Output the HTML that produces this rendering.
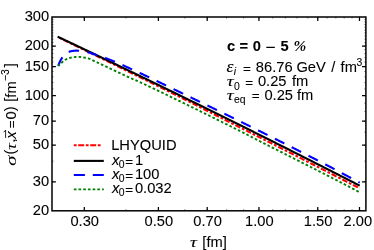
<!DOCTYPE html>
<html><head><meta charset="utf-8"><title>plot</title>
<style>
html,body{margin:0;padding:0;background:#fff;}
body{width:374px;height:250px;overflow:hidden;font-family:"Liberation Sans",sans-serif;}
svg{display:block;will-change:transform;transform:translateZ(0);}
</style></head>
<body>
<svg width="374" height="250" viewBox="0 0 374 250">
<rect width="374" height="250" fill="#fff"/>
<g fill="none" stroke-width="2.1" stroke-linejoin="round">
<path d="M57.60,36.96 L58.36,37.32 L59.11,37.69 L59.87,38.06 L60.63,38.43 L61.39,38.80 L62.14,39.17 L62.90,39.54 L63.66,39.90 L64.41,40.27 L65.17,40.64 L65.93,41.01 L66.69,41.38 L67.44,41.75 L68.20,42.12 L68.96,42.49 L69.71,42.85 L70.47,43.22 L71.23,43.59 L71.99,43.96 L72.74,44.33 L73.50,44.70 L74.26,45.07 L75.01,45.44 L75.77,45.80 L76.53,46.17 L77.29,46.54 L78.04,46.91 L78.80,47.28 L79.56,47.65 L80.31,48.02 L81.07,48.39 L81.83,48.75 L82.59,49.12 L83.34,49.49 L84.10,49.86 L84.86,50.23 L85.61,50.60 L86.37,50.97 L87.13,51.33 L87.89,51.70 L88.64,52.07 L89.40,52.44 L90.16,52.81 L90.91,53.18 L91.67,53.55 L92.43,53.91 L93.19,54.28 L93.94,54.65 L94.70,55.02 L95.46,55.39 L96.21,55.76 L96.97,56.13 L97.73,56.50 L98.49,56.87 L99.24,57.24 L100.00,57.60 L100.76,57.97 L101.51,58.34 L102.27,58.71 L103.03,59.08 L103.79,59.45 L104.54,59.82 L105.30,60.19 L106.06,60.56 L106.81,60.93 L107.57,61.30 L108.33,61.67 L109.09,62.04 L109.84,62.41 L110.60,62.78 L111.36,63.16 L112.11,63.53 L112.87,63.90 L113.63,64.27 L114.39,64.64 L115.14,65.01 L115.90,65.38 L116.66,65.75 L117.41,66.13 L118.17,66.50 L118.93,66.87 L119.69,67.24 L120.44,67.61 L121.20,67.99 L121.96,68.36 L122.71,68.73 L123.47,69.10 L124.23,69.47 L124.99,69.85 L125.74,70.22 L126.50,70.59 L127.26,70.96 L128.01,71.34 L128.77,71.71 L129.53,72.08 L130.29,72.46 L131.04,72.83 L131.80,73.20 L132.56,73.57 L133.31,73.95 L134.07,74.32 L134.83,74.69 L135.59,75.07 L136.34,75.44 L137.10,75.82 L137.86,76.19 L138.61,76.56 L139.37,76.94 L140.13,77.31 L140.89,77.68 L141.64,78.06 L142.40,78.43 L143.16,78.81 L143.91,79.18 L144.67,79.55 L145.43,79.93 L146.19,80.30 L146.94,80.68 L147.70,81.05 L148.46,81.42 L149.21,81.80 L149.97,82.17 L150.73,82.55 L151.49,82.92 L152.24,83.30 L153.00,83.67 L153.76,84.04 L154.51,84.42 L155.27,84.79 L156.03,85.17 L156.79,85.54 L157.54,85.92 L158.30,86.29 L159.06,86.66 L159.81,87.04 L160.57,87.41 L161.33,87.79 L162.09,88.16 L162.84,88.54 L163.60,88.91 L164.36,89.29 L165.11,89.66 L165.87,90.03 L166.63,90.41 L167.39,90.78 L168.14,91.16 L168.90,91.53 L169.66,91.91 L170.41,92.28 L171.17,92.66 L171.93,93.04 L172.69,93.41 L173.44,93.79 L174.20,94.16 L174.96,94.54 L175.71,94.92 L176.47,95.29 L177.23,95.67 L177.99,96.05 L178.74,96.42 L179.50,96.80 L180.26,97.18 L181.01,97.56 L181.77,97.93 L182.53,98.31 L183.29,98.69 L184.04,99.07 L184.80,99.45 L185.56,99.83 L186.31,100.20 L187.07,100.58 L187.83,100.96 L188.59,101.34 L189.34,101.72 L190.10,102.10 L190.86,102.49 L191.61,102.87 L192.37,103.25 L193.13,103.63 L193.89,104.02 L194.64,104.40 L195.40,104.79 L196.16,105.18 L196.91,105.56 L197.67,105.95 L198.43,106.34 L199.19,106.73 L199.94,107.12 L200.70,107.50 L201.46,107.89 L202.21,108.28 L202.97,108.67 L203.73,109.06 L204.49,109.45 L205.24,109.84 L206.00,110.23 L206.76,110.61 L207.51,111.00 L208.27,111.39 L209.03,111.78 L209.79,112.17 L210.54,112.55 L211.30,112.94 L212.06,113.32 L212.81,113.71 L213.57,114.09 L214.33,114.48 L215.09,114.86 L215.84,115.24 L216.60,115.62 L217.36,116.00 L218.11,116.39 L218.87,116.77 L219.63,117.15 L220.39,117.53 L221.14,117.91 L221.90,118.30 L222.66,118.68 L223.41,119.06 L224.17,119.44 L224.93,119.82 L225.69,120.21 L226.44,120.59 L227.20,120.97 L227.96,121.35 L228.71,121.73 L229.47,122.11 L230.23,122.50 L230.99,122.88 L231.74,123.26 L232.50,123.64 L233.26,124.02 L234.01,124.40 L234.77,124.79 L235.53,125.17 L236.29,125.55 L237.04,125.93 L237.80,126.31 L238.56,126.69 L239.31,127.08 L240.07,127.46 L240.83,127.84 L241.59,128.22 L242.34,128.60 L243.10,128.99 L243.86,129.37 L244.61,129.75 L245.37,130.13 L246.13,130.51 L246.89,130.89 L247.64,131.28 L248.40,131.66 L249.16,132.04 L249.91,132.42 L250.67,132.81 L251.43,133.19 L252.19,133.57 L252.94,133.95 L253.70,134.33 L254.46,134.72 L255.21,135.10 L255.97,135.48 L256.73,135.86 L257.49,136.25 L258.24,136.63 L259.00,137.01 L259.76,137.39 L260.51,137.78 L261.27,138.16 L262.03,138.54 L262.79,138.92 L263.54,139.31 L264.30,139.69 L265.06,140.07 L265.81,140.46 L266.57,140.84 L267.33,141.22 L268.09,141.61 L268.84,141.99 L269.60,142.37 L270.36,142.76 L271.11,143.14 L271.87,143.52 L272.63,143.91 L273.39,144.29 L274.14,144.68 L274.90,145.06 L275.66,145.44 L276.41,145.83 L277.17,146.21 L277.93,146.60 L278.69,146.98 L279.44,147.37 L280.20,147.75 L280.96,148.14 L281.71,148.52 L282.47,148.91 L283.23,149.29 L283.99,149.68 L284.74,150.06 L285.50,150.45 L286.26,150.83 L287.01,151.22 L287.77,151.60 L288.53,151.99 L289.29,152.37 L290.04,152.76 L290.80,153.14 L291.56,153.53 L292.31,153.91 L293.07,154.30 L293.83,154.69 L294.59,155.07 L295.34,155.46 L296.10,155.84 L296.86,156.23 L297.61,156.62 L298.37,157.00 L299.13,157.39 L299.89,157.77 L300.64,158.16 L301.40,158.55 L302.16,158.93 L302.91,159.32 L303.67,159.70 L304.43,160.09 L305.19,160.48 L305.94,160.86 L306.70,161.25 L307.46,161.64 L308.21,162.02 L308.97,162.41 L309.73,162.80 L310.49,163.18 L311.24,163.57 L312.00,163.96 L312.76,164.34 L313.51,164.73 L314.27,165.12 L315.03,165.50 L315.79,165.89 L316.54,166.28 L317.30,166.66 L318.06,167.05 L318.81,167.44 L319.57,167.82 L320.33,168.21 L321.09,168.60 L321.84,168.98 L322.60,169.37 L323.36,169.76 L324.11,170.14 L324.87,170.53 L325.63,170.92 L326.39,171.30 L327.14,171.69 L327.90,172.08 L328.66,172.46 L329.41,172.85 L330.17,173.24 L330.93,173.62 L331.69,174.01 L332.44,174.40 L333.20,174.79 L333.96,175.17 L334.71,175.56 L335.47,175.95 L336.23,176.33 L336.99,176.72 L337.74,177.11 L338.50,177.49 L339.26,177.88 L340.01,178.27 L340.77,178.65 L341.53,179.04 L342.29,179.43 L343.04,179.82 L343.80,180.20 L344.56,180.59 L345.31,180.98 L346.07,181.37 L346.83,181.75 L347.59,182.14 L348.34,182.53 L349.10,182.92 L349.86,183.31 L350.61,183.70 L351.37,184.08 L352.13,184.47 L352.89,184.86 L353.64,185.25 L354.40,185.64 L355.16,186.03 L355.91,186.42 L356.67,186.80 L357.43,187.19 L358.19,187.58 L358.94,187.97 L359.70,188.36" stroke="#ff0000" stroke-dasharray="2.7 1.9 5.5 1.9" stroke-dashoffset="-1.8"/>
<path d="M57.60,36.65 L58.36,37.00 L59.11,37.36 L59.87,37.72 L60.63,38.08 L61.39,38.44 L62.14,38.79 L62.90,39.15 L63.66,39.51 L64.41,39.87 L65.17,40.23 L65.93,40.59 L66.69,40.95 L67.44,41.30 L68.20,41.66 L68.96,42.02 L69.71,42.38 L70.47,42.74 L71.23,43.10 L71.99,43.46 L72.74,43.82 L73.50,44.18 L74.26,44.54 L75.01,44.89 L75.77,45.25 L76.53,45.61 L77.29,45.97 L78.04,46.33 L78.80,46.69 L79.56,47.05 L80.31,47.41 L81.07,47.77 L81.83,48.13 L82.59,48.49 L83.34,48.85 L84.10,49.21 L84.86,49.58 L85.61,49.94 L86.37,50.30 L87.13,50.66 L87.89,51.02 L88.64,51.38 L89.40,51.74 L90.16,52.10 L90.91,52.46 L91.67,52.82 L92.43,53.18 L93.19,53.55 L93.94,53.91 L94.70,54.27 L95.46,54.63 L96.21,54.99 L96.97,55.35 L97.73,55.72 L98.49,56.08 L99.24,56.44 L100.00,56.80 L100.76,57.16 L101.51,57.53 L102.27,57.89 L103.03,58.25 L103.79,58.61 L104.54,58.98 L105.30,59.34 L106.06,59.70 L106.81,60.06 L107.57,60.43 L108.33,60.79 L109.09,61.15 L109.84,61.52 L110.60,61.88 L111.36,62.24 L112.11,62.61 L112.87,62.97 L113.63,63.33 L114.39,63.70 L115.14,64.06 L115.90,64.42 L116.66,64.79 L117.41,65.15 L118.17,65.52 L118.93,65.88 L119.69,66.24 L120.44,66.61 L121.20,66.97 L121.96,67.34 L122.71,67.70 L123.47,68.07 L124.23,68.43 L124.99,68.79 L125.74,69.16 L126.50,69.52 L127.26,69.89 L128.01,70.25 L128.77,70.62 L129.53,70.98 L130.29,71.35 L131.04,71.71 L131.80,72.08 L132.56,72.45 L133.31,72.81 L134.07,73.18 L134.83,73.54 L135.59,73.91 L136.34,74.27 L137.10,74.64 L137.86,75.01 L138.61,75.37 L139.37,75.74 L140.13,76.10 L140.89,76.47 L141.64,76.84 L142.40,77.20 L143.16,77.57 L143.91,77.94 L144.67,78.30 L145.43,78.67 L146.19,79.04 L146.94,79.40 L147.70,79.77 L148.46,80.14 L149.21,80.51 L149.97,80.87 L150.73,81.24 L151.49,81.61 L152.24,81.98 L153.00,82.34 L153.76,82.71 L154.51,83.08 L155.27,83.45 L156.03,83.81 L156.79,84.18 L157.54,84.55 L158.30,84.92 L159.06,85.29 L159.81,85.66 L160.57,86.02 L161.33,86.39 L162.09,86.76 L162.84,87.13 L163.60,87.50 L164.36,87.87 L165.11,88.24 L165.87,88.61 L166.63,88.97 L167.39,89.34 L168.14,89.71 L168.90,90.08 L169.66,90.45 L170.41,90.82 L171.17,91.19 L171.93,91.56 L172.69,91.93 L173.44,92.30 L174.20,92.67 L174.96,93.04 L175.71,93.41 L176.47,93.78 L177.23,94.15 L177.99,94.52 L178.74,94.89 L179.50,95.26 L180.26,95.63 L181.01,96.00 L181.77,96.37 L182.53,96.74 L183.29,97.11 L184.04,97.48 L184.80,97.85 L185.56,98.23 L186.31,98.60 L187.07,98.97 L187.83,99.34 L188.59,99.71 L189.34,100.08 L190.10,100.45 L190.86,100.83 L191.61,101.20 L192.37,101.57 L193.13,101.94 L193.89,102.31 L194.64,102.68 L195.40,103.06 L196.16,103.43 L196.91,103.80 L197.67,104.17 L198.43,104.55 L199.19,104.92 L199.94,105.29 L200.70,105.66 L201.46,106.04 L202.21,106.41 L202.97,106.78 L203.73,107.15 L204.49,107.53 L205.24,107.90 L206.00,108.27 L206.76,108.65 L207.51,109.02 L208.27,109.39 L209.03,109.77 L209.79,110.14 L210.54,110.51 L211.30,110.89 L212.06,111.26 L212.81,111.63 L213.57,112.01 L214.33,112.38 L215.09,112.76 L215.84,113.13 L216.60,113.51 L217.36,113.88 L218.11,114.25 L218.87,114.63 L219.63,115.00 L220.39,115.38 L221.14,115.75 L221.90,116.13 L222.66,116.50 L223.41,116.88 L224.17,117.25 L224.93,117.63 L225.69,118.00 L226.44,118.38 L227.20,118.75 L227.96,119.13 L228.71,119.50 L229.47,119.88 L230.23,120.26 L230.99,120.63 L231.74,121.01 L232.50,121.38 L233.26,121.76 L234.01,122.14 L234.77,122.51 L235.53,122.89 L236.29,123.26 L237.04,123.64 L237.80,124.02 L238.56,124.39 L239.31,124.77 L240.07,125.15 L240.83,125.52 L241.59,125.90 L242.34,126.28 L243.10,126.65 L243.86,127.03 L244.61,127.41 L245.37,127.79 L246.13,128.16 L246.89,128.54 L247.64,128.92 L248.40,129.30 L249.16,129.67 L249.91,130.05 L250.67,130.43 L251.43,130.81 L252.19,131.18 L252.94,131.56 L253.70,131.94 L254.46,132.32 L255.21,132.70 L255.97,133.08 L256.73,133.45 L257.49,133.83 L258.24,134.21 L259.00,134.59 L259.76,134.97 L260.51,135.35 L261.27,135.73 L262.03,136.11 L262.79,136.48 L263.54,136.86 L264.30,137.24 L265.06,137.62 L265.81,138.00 L266.57,138.38 L267.33,138.76 L268.09,139.14 L268.84,139.52 L269.60,139.90 L270.36,140.28 L271.11,140.66 L271.87,141.04 L272.63,141.42 L273.39,141.80 L274.14,142.18 L274.90,142.56 L275.66,142.94 L276.41,143.32 L277.17,143.70 L277.93,144.08 L278.69,144.46 L279.44,144.84 L280.20,145.23 L280.96,145.61 L281.71,145.99 L282.47,146.37 L283.23,146.75 L283.99,147.13 L284.74,147.51 L285.50,147.89 L286.26,148.28 L287.01,148.66 L287.77,149.04 L288.53,149.42 L289.29,149.80 L290.04,150.18 L290.80,150.57 L291.56,150.95 L292.31,151.33 L293.07,151.71 L293.83,152.10 L294.59,152.48 L295.34,152.86 L296.10,153.24 L296.86,153.63 L297.61,154.01 L298.37,154.39 L299.13,154.77 L299.89,155.16 L300.64,155.54 L301.40,155.92 L302.16,156.31 L302.91,156.69 L303.67,157.07 L304.43,157.46 L305.19,157.84 L305.94,158.22 L306.70,158.61 L307.46,158.99 L308.21,159.37 L308.97,159.76 L309.73,160.14 L310.49,160.53 L311.24,160.91 L312.00,161.29 L312.76,161.68 L313.51,162.06 L314.27,162.45 L315.03,162.83 L315.79,163.22 L316.54,163.60 L317.30,163.99 L318.06,164.37 L318.81,164.76 L319.57,165.14 L320.33,165.53 L321.09,165.91 L321.84,166.30 L322.60,166.68 L323.36,167.07 L324.11,167.45 L324.87,167.84 L325.63,168.22 L326.39,168.61 L327.14,169.00 L327.90,169.38 L328.66,169.77 L329.41,170.15 L330.17,170.54 L330.93,170.93 L331.69,171.31 L332.44,171.70 L333.20,172.09 L333.96,172.47 L334.71,172.86 L335.47,173.25 L336.23,173.63 L336.99,174.02 L337.74,174.41 L338.50,174.79 L339.26,175.18 L340.01,175.57 L340.77,175.95 L341.53,176.34 L342.29,176.73 L343.04,177.12 L343.80,177.50 L344.56,177.89 L345.31,178.28 L346.07,178.67 L346.83,179.05 L347.59,179.44 L348.34,179.83 L349.10,180.22 L349.86,180.61 L350.61,181.00 L351.37,181.38 L352.13,181.77 L352.89,182.16 L353.64,182.55 L354.40,182.94 L355.16,183.33 L355.91,183.72 L356.67,184.10 L357.43,184.49 L358.19,184.88 L358.94,185.27 L359.70,185.66" stroke="#000"/>
<path d="M58.20,65.90 L58.44,65.27 L58.68,64.64 L58.93,64.00 L59.19,63.37 L59.45,62.74 L59.73,62.12 L60.01,61.50 L60.31,60.88 L60.62,60.27 L60.94,59.67 L61.28,59.08 L61.64,58.51 L62.01,57.94 L62.41,57.39 L62.82,56.85 L63.26,56.33 L63.71,55.83 L64.18,55.33 L64.67,54.86 L65.17,54.40 L65.69,53.95 L66.23,53.52 L66.78,53.11 L67.35,52.74 L67.93,52.39 L68.53,52.08 L69.15,51.81 L69.79,51.58 L70.44,51.38 L71.10,51.22 L71.77,51.08 L72.45,50.96 L73.12,50.85 L73.80,50.76 L74.48,50.68 L75.16,50.63 L75.83,50.60 L76.51,50.60 L77.19,50.63 L77.87,50.69 L78.54,50.76 L79.22,50.84 L79.89,50.91 L80.57,50.99 L81.24,51.08 L81.92,51.16 L82.59,51.25 L83.26,51.34 L83.94,51.43 L84.61,51.53 L85.28,51.64 L85.95,51.76 L86.62,51.89 L87.28,52.04 L87.94,52.21 L88.59,52.39 L89.25,52.58 L89.89,52.78 L90.54,52.99 L91.18,53.21 L91.83,53.44 L92.47,53.67 L93.11,53.90 L93.75,54.13 L94.39,54.36 L95.03,54.59 L95.67,54.81 L96.31,55.03 L96.95,55.24 L97.60,55.45 L98.25,55.64 L98.90,55.84 L99.56,56.02 L100.21,56.21 L100.86,56.40 L101.51,56.60 L102.16,56.81 L102.81,57.02 L103.45,57.24 L104.09,57.47 L104.73,57.70 L105.37,57.93 L106.00,58.17 L106.64,58.41 L107.27,58.65 L107.91,58.90 L108.54,59.14 L109.17,59.39 L109.80,59.64 L110.44,59.90 L111.06,60.15 L111.69,60.41 L112.32,60.67 L112.95,60.93 L113.58,61.19 L114.20,61.45 L114.83,61.72 L115.45,61.98 L116.08,62.25 L116.70,62.52 L117.33,62.79 L117.95,63.07 L118.57,63.34 L119.19,63.61 L119.81,63.89 L120.43,64.16 L121.06,64.44 L121.68,64.71 L122.30,64.99 L122.92,65.27 L123.54,65.55 L124.16,65.82 L124.78,66.10 L125.40,66.38 L126.02,66.66 L126.64,66.94 L127.26,67.22 L127.88,67.49 L128.50,67.77 L129.12,68.05 L129.73,68.33 L130.35,68.61 L130.97,68.89 L131.59,69.17 L132.21,69.45 L132.83,69.73 L133.45,70.02 L134.07,70.30 L134.68,70.58 L135.30,70.86 L135.92,71.15 L136.54,71.43 L137.15,71.72 L137.77,72.00 L138.39,72.29 L139.00,72.58 L139.62,72.86 L140.23,73.15 L140.85,73.44 L141.46,73.73 L142.08,74.02 L142.69,74.31 L143.31,74.60 L143.92,74.89 L144.54,75.18 L145.15,75.47 L145.76,75.76 L146.38,76.05 L146.99,76.34 L147.61,76.63 L148.22,76.92 L148.83,77.21 L149.45,77.50 L150.06,77.80 L150.68,78.09 L151.29,78.38 L151.90,78.67 L152.52,78.97 L153.13,79.26 L153.74,79.55 L154.36,79.84 L154.97,80.14 L155.58,80.43 L156.19,80.72 L156.81,81.02 L157.42,81.31 L158.03,81.60 L158.65,81.90 L159.26,82.19 L159.87,82.48 L160.48,82.78 L161.10,83.07 L161.71,83.37 L162.32,83.66 L162.93,83.96 L163.55,84.25 L164.16,84.54 L164.77,84.84 L165.38,85.13 L165.99,85.43 L166.61,85.72 L167.22,86.02 L167.83,86.32 L168.44,86.61 L169.05,86.91 L169.67,87.20 L170.28,87.50 L170.89,87.79 L171.50,88.09 L172.11,88.38 L172.72,88.68 L173.34,88.98 L173.95,89.27 L174.56,89.57 L175.17,89.87 L175.78,90.16 L176.39,90.46 L177.01,90.75 L177.62,91.05 L178.23,91.35 L178.84,91.64 L179.45,91.94 L180.06,92.24 L180.67,92.53 L181.29,92.83 L181.90,93.13 L182.51,93.42 L183.12,93.72 L183.73,94.02 L184.34,94.31 L184.95,94.61 L185.57,94.90 L186.18,95.20 L186.79,95.50 L187.40,95.79 L188.01,96.09 L188.62,96.39 L189.23,96.68 L189.85,96.98 L190.46,97.28 L191.07,97.57 L191.68,97.87 L192.29,98.16 L192.90,98.46 L193.51,98.76 L194.13,99.05 L194.74,99.35 L195.35,99.64 L195.96,99.94 L196.57,100.23 L197.19,100.53 L197.80,100.82 L198.41,101.12 L199.02,101.41 L199.63,101.71 L200.25,102.01 L200.86,102.30 L201.47,102.60 L202.08,102.89 L202.69,103.19 L203.31,103.48 L203.92,103.78 L204.53,104.07 L205.14,104.37 L205.75,104.66 L206.37,104.96 L206.98,105.25 L207.59,105.55 L208.20,105.84 L208.81,106.14 L209.43,106.43 L210.04,106.73 L210.65,107.03 L211.26,107.32 L211.87,107.62 L212.48,107.91 L213.10,108.21 L213.71,108.50 L214.32,108.80 L214.93,109.10 L215.54,109.39 L216.15,109.69 L216.77,109.99 L217.38,110.28 L217.99,110.58 L218.60,110.88 L219.21,111.17 L219.82,111.47 L220.43,111.77 L221.04,112.06 L221.65,112.36 L222.27,112.66 L222.88,112.96 L223.49,113.25 L224.10,113.55 L224.71,113.85 L225.32,114.15 L225.93,114.45 L226.54,114.74 L227.15,115.04 L227.76,115.34 L228.37,115.64 L228.98,115.94 L229.59,116.24 L230.20,116.54 L230.81,116.84 L231.42,117.14 L232.03,117.44 L232.64,117.74 L233.25,118.04 L233.86,118.34 L234.47,118.64 L235.08,118.94 L235.69,119.24 L236.30,119.54 L236.91,119.84 L237.52,120.14 L238.13,120.44 L238.73,120.74 L239.34,121.04 L239.95,121.34 L240.56,121.64 L241.17,121.94 L241.78,122.25 L242.39,122.55 L243.00,122.85 L243.61,123.15 L244.22,123.45 L244.83,123.75 L245.44,124.05 L246.05,124.35 L246.66,124.65 L247.26,124.95 L247.87,125.26 L248.48,125.56 L249.09,125.86 L249.70,126.16 L250.31,126.46 L250.92,126.76 L251.53,127.06 L252.14,127.37 L252.74,127.67 L253.35,127.97 L253.96,128.27 L254.57,128.57 L255.18,128.88 L255.79,129.18 L256.40,129.48 L257.00,129.78 L257.61,130.08 L258.22,130.39 L258.83,130.69 L259.44,130.99 L260.05,131.29 L260.66,131.60 L261.26,131.90 L261.87,132.20 L262.48,132.51 L263.09,132.81 L263.70,133.11 L264.30,133.42 L264.91,133.72 L265.52,134.02 L266.13,134.33 L266.74,134.63 L267.34,134.93 L267.95,135.24 L268.56,135.54 L269.17,135.84 L269.78,136.15 L270.38,136.45 L270.99,136.76 L271.60,137.06 L272.21,137.36 L272.81,137.67 L273.42,137.97 L274.03,138.28 L274.64,138.58 L275.24,138.89 L275.85,139.19 L276.46,139.50 L277.07,139.80 L277.67,140.11 L278.28,140.41 L278.89,140.72 L279.49,141.02 L280.10,141.33 L280.71,141.63 L281.32,141.94 L281.92,142.24 L282.53,142.55 L283.14,142.85 L283.74,143.16 L284.35,143.47 L284.96,143.77 L285.56,144.08 L286.17,144.38 L286.78,144.69 L287.38,145.00 L287.99,145.30 L288.59,145.61 L289.20,145.92 L289.81,146.22 L290.41,146.53 L291.02,146.84 L291.63,147.14 L292.23,147.45 L292.84,147.76 L293.44,148.07 L294.05,148.37 L294.66,148.68 L295.26,148.99 L295.87,149.30 L296.47,149.60 L297.08,149.91 L297.69,150.22 L298.29,150.53 L298.90,150.83 L299.50,151.14 L300.11,151.45 L300.71,151.76 L301.32,152.07 L301.92,152.38 L302.53,152.68 L303.14,152.99 L303.74,153.30 L304.35,153.61 L304.95,153.92 L305.56,154.23 L306.16,154.54 L306.77,154.85 L307.37,155.16 L307.98,155.46 L308.58,155.77 L309.19,156.08 L309.79,156.39 L310.40,156.70 L311.00,157.01 L311.61,157.32 L312.21,157.63 L312.82,157.94 L313.42,158.25 L314.03,158.56 L314.63,158.87 L315.23,159.18 L315.84,159.49 L316.44,159.80 L317.05,160.11 L317.65,160.42 L318.26,160.73 L318.86,161.04 L319.47,161.35 L320.07,161.67 L320.67,161.98 L321.28,162.29 L321.88,162.60 L322.49,162.91 L323.09,163.22 L323.69,163.53 L324.30,163.84 L324.90,164.15 L325.51,164.47 L326.11,164.78 L326.71,165.09 L327.31,165.41 L327.92,165.72 L328.52,166.04 L329.12,166.35 L329.72,166.67 L330.32,166.98 L330.92,167.30 L331.52,167.62 L332.12,167.94 L332.72,168.26 L333.32,168.58 L333.92,168.90 L334.52,169.22 L335.12,169.54 L335.72,169.86 L336.32,170.18 L336.92,170.50 L337.52,170.82 L338.12,171.14 L338.72,171.46 L339.32,171.78 L339.92,172.10 L340.51,172.42 L341.11,172.74 L341.71,173.06 L342.31,173.38 L342.91,173.70 L343.51,174.02 L344.11,174.34 L344.71,174.66 L345.31,174.98 L345.91,175.30 L346.51,175.62 L347.11,175.94 L347.71,176.26 L348.31,176.58 L348.91,176.90 L349.51,177.22 L350.11,177.54 L350.71,177.86 L351.31,178.18 L351.91,178.50 L352.51,178.82 L353.11,179.14 L353.71,179.46 L354.30,179.78 L354.90,180.09 L355.50,180.41 L356.10,180.73 L356.70,181.05 L357.30,181.37 L357.90,181.69 L358.50,182.01 L359.10,182.33 L359.70,182.65" stroke="#0000ff" stroke-dasharray="10.55 8.26" stroke-dashoffset="0.9"/>
<path d="M58.20,65.90 L58.70,65.46 L59.19,65.01 L59.68,64.55 L60.17,64.08 L60.65,63.61 L61.14,63.14 L61.64,62.68 L62.13,62.22 L62.64,61.77 L63.16,61.34 L63.68,60.92 L64.22,60.52 L64.78,60.14 L65.35,59.79 L65.94,59.46 L66.54,59.16 L67.15,58.88 L67.78,58.63 L68.41,58.39 L69.05,58.18 L69.70,57.99 L70.35,57.82 L71.01,57.66 L71.66,57.52 L72.32,57.39 L72.99,57.28 L73.65,57.18 L74.32,57.08 L74.99,57.00 L75.67,56.93 L76.34,56.88 L77.01,56.85 L77.68,56.84 L78.35,56.85 L79.02,56.89 L79.69,56.94 L80.36,57.01 L81.03,57.10 L81.69,57.19 L82.36,57.29 L83.03,57.39 L83.70,57.49 L84.37,57.58 L85.03,57.69 L85.70,57.80 L86.36,57.92 L87.02,58.07 L87.66,58.23 L88.31,58.43 L88.94,58.65 L89.57,58.89 L90.19,59.15 L90.80,59.42 L91.42,59.70 L92.03,59.99 L92.64,60.28 L93.25,60.56 L93.86,60.85 L94.47,61.13 L95.08,61.41 L95.69,61.70 L96.30,61.98 L96.91,62.26 L97.52,62.54 L98.13,62.83 L98.74,63.11 L99.35,63.40 L99.96,63.68 L100.57,63.97 L101.18,64.25 L101.78,64.54 L102.39,64.82 L103.00,65.11 L103.61,65.40 L104.22,65.68 L104.83,65.97 L105.44,66.26 L106.04,66.54 L106.65,66.83 L107.26,67.12 L107.87,67.41 L108.48,67.69 L109.08,67.98 L109.69,68.27 L110.30,68.56 L110.91,68.85 L111.52,69.13 L112.12,69.42 L112.73,69.71 L113.34,70.00 L113.95,70.29 L114.56,70.57 L115.16,70.86 L115.77,71.15 L116.38,71.44 L116.99,71.73 L117.60,72.01 L118.20,72.30 L118.81,72.59 L119.42,72.88 L120.03,73.16 L120.64,73.45 L121.24,73.74 L121.85,74.02 L122.46,74.31 L123.07,74.60 L123.68,74.88 L124.29,75.17 L124.90,75.45 L125.51,75.73 L126.12,76.02 L126.73,76.30 L127.34,76.58 L127.95,76.86 L128.57,77.13 L129.18,77.41 L129.79,77.68 L130.41,77.95 L131.03,78.23 L131.64,78.50 L132.26,78.77 L132.87,79.03 L133.49,79.30 L134.11,79.57 L134.72,79.84 L135.34,80.11 L135.96,80.38 L136.57,80.65 L137.19,80.92 L137.81,81.19 L138.42,81.46 L139.04,81.73 L139.65,82.00 L140.27,82.28 L140.88,82.55 L141.49,82.83 L142.10,83.11 L142.71,83.39 L143.32,83.68 L143.93,83.96 L144.54,84.25 L145.15,84.54 L145.76,84.83 L146.36,85.11 L146.97,85.40 L147.58,85.69 L148.19,85.98 L148.79,86.27 L149.40,86.56 L150.01,86.85 L150.61,87.14 L151.22,87.44 L151.83,87.73 L152.43,88.02 L153.04,88.31 L153.65,88.60 L154.25,88.89 L154.86,89.18 L155.47,89.47 L156.07,89.76 L156.68,90.05 L157.28,90.34 L157.89,90.64 L158.50,90.93 L159.10,91.22 L159.71,91.51 L160.32,91.80 L160.92,92.09 L161.53,92.38 L162.13,92.68 L162.74,92.97 L163.35,93.26 L163.95,93.55 L164.56,93.85 L165.16,94.14 L165.77,94.43 L166.37,94.72 L166.98,95.02 L167.59,95.31 L168.19,95.60 L168.80,95.89 L169.40,96.19 L170.01,96.48 L170.61,96.77 L171.22,97.07 L171.82,97.36 L172.43,97.65 L173.03,97.95 L173.64,98.24 L174.24,98.53 L174.85,98.83 L175.46,99.12 L176.06,99.41 L176.67,99.71 L177.27,100.00 L177.88,100.30 L178.48,100.59 L179.09,100.88 L179.69,101.18 L180.29,101.47 L180.90,101.77 L181.50,102.06 L182.11,102.36 L182.71,102.65 L183.32,102.95 L183.92,103.24 L184.53,103.54 L185.13,103.83 L185.74,104.13 L186.34,104.42 L186.94,104.72 L187.55,105.01 L188.15,105.31 L188.76,105.60 L189.36,105.90 L189.97,106.19 L190.57,106.49 L191.17,106.79 L191.78,107.08 L192.38,107.38 L192.99,107.67 L193.59,107.97 L194.19,108.27 L194.80,108.56 L195.40,108.86 L196.01,109.15 L196.61,109.45 L197.21,109.75 L197.82,110.04 L198.42,110.34 L199.02,110.64 L199.63,110.94 L200.23,111.23 L200.83,111.53 L201.44,111.83 L202.04,112.12 L202.65,112.42 L203.25,112.72 L203.85,113.02 L204.46,113.31 L205.06,113.61 L205.66,113.91 L206.26,114.21 L206.87,114.50 L207.47,114.80 L208.07,115.10 L208.68,115.40 L209.28,115.70 L209.88,115.99 L210.49,116.29 L211.09,116.59 L211.69,116.89 L212.29,117.19 L212.90,117.49 L213.50,117.79 L214.10,118.08 L214.70,118.38 L215.31,118.68 L215.91,118.98 L216.51,119.28 L217.11,119.58 L217.72,119.88 L218.32,120.18 L218.92,120.48 L219.52,120.78 L220.13,121.08 L220.73,121.38 L221.33,121.68 L221.93,121.98 L222.53,122.28 L223.14,122.58 L223.74,122.88 L224.34,123.18 L224.94,123.48 L225.54,123.78 L226.15,124.08 L226.75,124.38 L227.35,124.68 L227.95,124.98 L228.55,125.28 L229.16,125.58 L229.76,125.88 L230.36,126.18 L230.96,126.48 L231.56,126.78 L232.16,127.08 L232.77,127.38 L233.37,127.69 L233.97,127.99 L234.57,128.29 L235.17,128.59 L235.77,128.89 L236.37,129.19 L236.97,129.49 L237.58,129.79 L238.18,130.10 L238.78,130.40 L239.38,130.70 L239.98,131.00 L240.58,131.30 L241.18,131.61 L241.78,131.91 L242.38,132.22 L242.98,132.52 L243.58,132.83 L244.18,133.13 L244.78,133.44 L245.38,133.75 L245.97,134.06 L246.57,134.36 L247.17,134.67 L247.77,134.98 L248.36,135.29 L248.96,135.60 L249.56,135.91 L250.15,136.22 L250.75,136.53 L251.35,136.85 L251.94,137.16 L252.54,137.47 L253.14,137.78 L253.73,138.09 L254.33,138.40 L254.93,138.71 L255.52,139.02 L256.12,139.33 L256.72,139.64 L257.31,139.95 L257.91,140.26 L258.51,140.57 L259.10,140.88 L259.70,141.19 L260.30,141.50 L260.90,141.80 L261.50,142.11 L262.10,142.42 L262.69,142.72 L263.29,143.03 L263.89,143.33 L264.49,143.64 L265.09,143.94 L265.69,144.25 L266.29,144.55 L266.90,144.85 L267.50,145.15 L268.10,145.46 L268.70,145.76 L269.30,146.06 L269.90,146.36 L270.50,146.67 L271.10,146.97 L271.70,147.27 L272.30,147.57 L272.90,147.88 L273.50,148.18 L274.10,148.48 L274.70,148.79 L275.30,149.09 L275.90,149.39 L276.51,149.69 L277.11,150.00 L277.71,150.30 L278.31,150.60 L278.91,150.91 L279.51,151.21 L280.11,151.51 L280.71,151.82 L281.31,152.12 L281.91,152.42 L282.51,152.72 L283.11,153.03 L283.71,153.33 L284.31,153.63 L284.91,153.94 L285.51,154.24 L286.11,154.54 L286.71,154.85 L287.31,155.15 L287.91,155.45 L288.52,155.76 L289.12,156.06 L289.72,156.36 L290.32,156.67 L290.92,156.97 L291.52,157.27 L292.12,157.58 L292.72,157.88 L293.32,158.18 L293.92,158.49 L294.52,158.79 L295.12,159.09 L295.72,159.40 L296.32,159.70 L296.92,160.01 L297.52,160.31 L298.12,160.61 L298.72,160.92 L299.32,161.22 L299.92,161.52 L300.52,161.83 L301.12,162.13 L301.72,162.44 L302.32,162.74 L302.92,163.05 L303.52,163.35 L304.12,163.65 L304.72,163.96 L305.32,164.26 L305.92,164.57 L306.52,164.87 L307.12,165.18 L307.72,165.48 L308.32,165.78 L308.92,166.09 L309.52,166.39 L310.12,166.70 L310.72,167.00 L311.32,167.31 L311.92,167.61 L312.52,167.92 L313.12,168.22 L313.72,168.53 L314.31,168.83 L314.91,169.14 L315.51,169.44 L316.11,169.75 L316.71,170.05 L317.31,170.36 L317.91,170.66 L318.51,170.97 L319.11,171.27 L319.71,171.58 L320.31,171.89 L320.91,172.19 L321.51,172.50 L322.11,172.80 L322.70,173.11 L323.30,173.41 L323.90,173.72 L324.50,174.03 L325.10,174.33 L325.70,174.64 L326.30,174.94 L326.90,175.25 L327.50,175.56 L328.09,175.86 L328.69,176.17 L329.29,176.48 L329.89,176.78 L330.49,177.09 L331.09,177.40 L331.69,177.70 L332.29,178.01 L332.88,178.32 L333.48,178.63 L334.08,178.93 L334.68,179.24 L335.28,179.55 L335.88,179.85 L336.47,180.16 L337.07,180.47 L337.67,180.78 L338.27,181.09 L338.86,181.40 L339.46,181.71 L340.06,182.02 L340.65,182.33 L341.25,182.64 L341.85,182.95 L342.44,183.26 L343.04,183.57 L343.64,183.88 L344.23,184.20 L344.83,184.51 L345.42,184.82 L346.02,185.13 L346.61,185.45 L347.21,185.76 L347.81,186.07 L348.40,186.39 L349.00,186.70 L349.59,187.01 L350.19,187.33 L350.78,187.64 L351.38,187.95 L351.97,188.27 L352.56,188.58 L353.16,188.90 L353.75,189.21 L354.35,189.53 L354.94,189.84 L355.54,190.15 L356.13,190.47 L356.73,190.78 L357.32,191.10 L357.92,191.41 L358.51,191.73 L359.11,192.04 L359.70,192.36" stroke="#008000" stroke-width="1.9" stroke-dasharray="2.6 2.15" stroke-dashoffset="0.6"/>
</g>
<rect x="52.0" y="17.0" width="313.9" height="193.8" fill="none" stroke="#000" stroke-width="1.5"/>
<path d="M84.30,210.8 v-3.9 M84.30,17.0 v3.9 M158.40,210.8 v-3.9 M158.40,17.0 v3.9 M207.20,210.8 v-3.9 M207.20,17.0 v3.9 M258.94,210.8 v-3.9 M258.94,17.0 v3.9 M317.76,210.8 v-3.9 M317.76,17.0 v3.9 M359.49,210.8 v-3.9 M359.49,17.0 v3.9 M52.0,46.02 h3.9 M365.9,46.02 h-3.9 M52.0,66.60 h3.9 M365.9,66.60 h-3.9 M52.0,95.62 h3.9 M365.9,95.62 h-3.9 M52.0,121.15 h3.9 M365.9,121.15 h-3.9 M52.0,145.23 h3.9 M365.9,145.23 h-3.9 M52.0,181.78 h3.9 M365.9,181.78 h-3.9" stroke="#000" stroke-width="1.25" fill="none"/>
<path d="M84.30,210.8 v-1.5 M84.30,17.0 v1.5 M126.03,210.8 v-1.5 M126.03,17.0 v1.5 M158.40,210.8 v-1.5 M158.40,17.0 v1.5 M184.84,210.8 v-1.5 M184.84,17.0 v1.5 M207.20,210.8 v-1.5 M207.20,17.0 v1.5 M226.57,210.8 v-1.5 M226.57,17.0 v1.5 M243.66,210.8 v-1.5 M243.66,17.0 v1.5 M258.94,210.8 v-1.5 M258.94,17.0 v1.5 M272.77,210.8 v-1.5 M272.77,17.0 v1.5 M285.39,210.8 v-1.5 M285.39,17.0 v1.5 M297.00,210.8 v-1.5 M297.00,17.0 v1.5 M307.75,210.8 v-1.5 M307.75,17.0 v1.5 M317.76,210.8 v-1.5 M317.76,17.0 v1.5 M327.12,210.8 v-1.5 M327.12,17.0 v1.5 M335.91,210.8 v-1.5 M335.91,17.0 v1.5 M344.20,210.8 v-1.5 M344.20,17.0 v1.5 M352.05,210.8 v-1.5 M352.05,17.0 v1.5 M359.49,210.8 v-1.5 M359.49,17.0 v1.5 M52.0,181.78 h1.5 M365.9,181.78 h-1.5 M52.0,161.20 h1.5 M365.9,161.20 h-1.5 M52.0,145.23 h1.5 M365.9,145.23 h-1.5 M52.0,132.18 h1.5 M365.9,132.18 h-1.5 M52.0,121.15 h1.5 M365.9,121.15 h-1.5 M52.0,111.59 h1.5 M365.9,111.59 h-1.5 M52.0,103.16 h1.5 M365.9,103.16 h-1.5 M52.0,95.62 h1.5 M365.9,95.62 h-1.5 M52.0,88.80 h1.5 M365.9,88.80 h-1.5 M52.0,82.57 h1.5 M365.9,82.57 h-1.5 M52.0,76.85 h1.5 M365.9,76.85 h-1.5 M52.0,71.54 h1.5 M365.9,71.54 h-1.5 M52.0,66.60 h1.5 M365.9,66.60 h-1.5 M52.0,61.99 h1.5 M365.9,61.99 h-1.5 M52.0,57.65 h1.5 M365.9,57.65 h-1.5 M52.0,53.56 h1.5 M365.9,53.56 h-1.5 M52.0,49.69 h1.5 M365.9,49.69 h-1.5 M52.0,46.02 h1.5 M365.9,46.02 h-1.5 M52.0,42.53 h1.5 M365.9,42.53 h-1.5 M52.0,39.20 h1.5 M365.9,39.20 h-1.5 M52.0,36.01 h1.5 M365.9,36.01 h-1.5 M52.0,32.97 h1.5 M365.9,32.97 h-1.5 M52.0,30.05 h1.5 M365.9,30.05 h-1.5 M52.0,27.24 h1.5 M365.9,27.24 h-1.5 M52.0,24.54 h1.5 M365.9,24.54 h-1.5 M52.0,21.94 h1.5 M365.9,21.94 h-1.5 M52.0,19.43 h1.5 M365.9,19.43 h-1.5" stroke="#000" stroke-width="0.7" fill="none" opacity="0.8"/>
<g fill="#000">
<text transform="translate(84.70 226.40) scale(1 1.04)" font-size="14.7" font-family='"Liberation Sans", sans-serif' text-anchor="middle" stroke="#000" stroke-width="0.08">0.30</text>
<text transform="translate(158.80 226.40) scale(1 1.04)" font-size="14.7" font-family='"Liberation Sans", sans-serif' text-anchor="middle" stroke="#000" stroke-width="0.08">0.50</text>
<text transform="translate(207.60 226.40) scale(1 1.04)" font-size="14.7" font-family='"Liberation Sans", sans-serif' text-anchor="middle" stroke="#000" stroke-width="0.08">0.70</text>
<text transform="translate(259.34 226.40) scale(1 1.04)" font-size="14.7" font-family='"Liberation Sans", sans-serif' text-anchor="middle" stroke="#000" stroke-width="0.08">1.00</text>
<text transform="translate(318.16 226.40) scale(1 1.04)" font-size="14.7" font-family='"Liberation Sans", sans-serif' text-anchor="middle" stroke="#000" stroke-width="0.08">1.50</text>
<text transform="translate(357.89 226.40) scale(1 1.04)" font-size="14.7" font-family='"Liberation Sans", sans-serif' text-anchor="middle" stroke="#000" stroke-width="0.08">2.00</text>
<text transform="translate(49.20 21.10) scale(1 1.04)" font-size="14.7" font-family='"Liberation Sans", sans-serif' text-anchor="end" stroke="#000" stroke-width="0.08">300</text>
<text transform="translate(49.20 50.12) scale(1 1.04)" font-size="14.7" font-family='"Liberation Sans", sans-serif' text-anchor="end" stroke="#000" stroke-width="0.08">200</text>
<text transform="translate(49.20 70.70) scale(1 1.04)" font-size="14.7" font-family='"Liberation Sans", sans-serif' text-anchor="end" stroke="#000" stroke-width="0.08">150</text>
<text transform="translate(49.20 99.72) scale(1 1.04)" font-size="14.7" font-family='"Liberation Sans", sans-serif' text-anchor="end" stroke="#000" stroke-width="0.08">100</text>
<text transform="translate(49.20 125.25) scale(1 1.04)" font-size="14.7" font-family='"Liberation Sans", sans-serif' text-anchor="end" stroke="#000" stroke-width="0.08">70</text>
<text transform="translate(49.20 149.33) scale(1 1.04)" font-size="14.7" font-family='"Liberation Sans", sans-serif' text-anchor="end" stroke="#000" stroke-width="0.08">50</text>
<text transform="translate(49.20 185.88) scale(1 1.04)" font-size="14.7" font-family='"Liberation Sans", sans-serif' text-anchor="end" stroke="#000" stroke-width="0.08">30</text>
<text transform="translate(49.20 214.90) scale(1 1.04)" font-size="14.7" font-family='"Liberation Sans", sans-serif' text-anchor="end" stroke="#000" stroke-width="0.08">20</text>
</g>
<g fill="none" stroke-width="2.1">
<path d="M73.8,145.2 H101.2" stroke="#ff0000" stroke-dasharray="2.8 1.6 6 1.6"/>
<path d="M73.8,160.9 H103.8" stroke="#000"/>
<path d="M73.8,175.0 H103.8" stroke="#0000ff" stroke-dasharray="11.1 7.9"/>
<path d="M73.8,189.4 H103.8" stroke="#008000" stroke-width="1.9" stroke-dasharray="2.7 2.0"/>
</g>
<g fill="#000">
<text transform="translate(111.20 150.00) scale(1 1.04)" font-size="14.7" font-family='"Liberation Sans", sans-serif' stroke="#000" stroke-width="0.08">LHYQUID</text>
<text transform="translate(112.00 165.00) scale(1 1)" font-size="14.7" font-family='"Liberation Sans", sans-serif' font-style="italic" stroke="#000" stroke-width="0.08">x</text>
<text transform="translate(118.70 168.10) scale(1 1.04)" font-size="10.4" font-family='"Liberation Sans", sans-serif' stroke="#000" stroke-width="0.08">0</text>
<text transform="translate(125.25 165.80) scale(1 1)" font-size="13.5" font-family='"Liberation Sans", sans-serif' stroke="#000" stroke-width="0.15">=</text>
<text transform="translate(134.90 165.00) scale(1 1.04)" font-size="14.7" font-family='"Liberation Sans", sans-serif' stroke="#000" stroke-width="0.08">1</text>
<text transform="translate(112.00 179.00) scale(1 1)" font-size="14.7" font-family='"Liberation Sans", sans-serif' font-style="italic" stroke="#000" stroke-width="0.08">x</text>
<text transform="translate(118.70 182.10) scale(1 1.04)" font-size="10.4" font-family='"Liberation Sans", sans-serif' stroke="#000" stroke-width="0.08">0</text>
<text transform="translate(125.25 179.80) scale(1 1)" font-size="13.5" font-family='"Liberation Sans", sans-serif' stroke="#000" stroke-width="0.15">=</text>
<text transform="translate(134.90 179.00) scale(1 1.04)" font-size="14.7" font-family='"Liberation Sans", sans-serif' stroke="#000" stroke-width="0.08">100</text>
<text transform="translate(112.00 193.10) scale(1 1)" font-size="14.7" font-family='"Liberation Sans", sans-serif' font-style="italic" stroke="#000" stroke-width="0.08">x</text>
<text transform="translate(118.70 196.20) scale(1 1.04)" font-size="10.4" font-family='"Liberation Sans", sans-serif' stroke="#000" stroke-width="0.08">0</text>
<text transform="translate(125.25 193.90) scale(1 1)" font-size="13.5" font-family='"Liberation Sans", sans-serif' stroke="#000" stroke-width="0.15">=</text>
<text transform="translate(134.90 193.10) scale(1 1.04)" font-size="14.7" font-family='"Liberation Sans", sans-serif' stroke="#000" stroke-width="0.08">0.032</text>
</g>
<g fill="#000">
<text transform="translate(227.00 50.90) scale(1 1.04)" font-size="14.7" font-family='"Liberation Sans", sans-serif' font-weight="bold" stroke="#000" stroke-width="0.08">c</text>
<text transform="translate(239.60 50.90) scale(1 1.04)" font-size="14.7" font-family='"Liberation Sans", sans-serif' font-weight="bold" stroke="#000" stroke-width="0.08">=</text>
<text transform="translate(252.80 50.90) scale(1 1.04)" font-size="14.7" font-family='"Liberation Sans", sans-serif' font-weight="bold" stroke="#000" stroke-width="0.08">0</text>
<text transform="translate(266.40 50.90) scale(1 1.04)" font-size="14.7" font-family='"Liberation Sans", sans-serif' stroke="#000" stroke-width="0.25">–</text>
<text transform="translate(280.60 50.90) scale(1 1.04)" font-size="14.7" font-family='"Liberation Sans", sans-serif' font-weight="bold" stroke="#000" stroke-width="0.08">5</text>
<text transform="translate(293.60 50.60) scale(1 1)" font-size="15.3" font-family='"Liberation Serif", serif' font-style="italic" font-weight="bold">%</text>
<text transform="translate(226.60 72.10) scale(1.12 1)" font-size="15.8" font-family='"Liberation Serif", serif' font-style="italic" stroke="#000" stroke-width="0.1">ε</text>
<text transform="translate(233.80 75.40) scale(1 1.04)" font-size="10.4" font-family='"Liberation Sans", sans-serif' font-style="italic" stroke="#000" stroke-width="0.08">i</text>
<text transform="translate(242.95 72.90) scale(1 1)" font-size="13.5" font-family='"Liberation Sans", sans-serif' stroke="#000" stroke-width="0.15">=</text>
<text transform="translate(255.80 72.10) scale(1 1.04)" font-size="14.7" font-family='"Liberation Sans", sans-serif' stroke="#000" stroke-width="0.08">86.76</text>
<text transform="translate(296.40 72.10) scale(1 1.04)" font-size="14.7" font-family='"Liberation Sans", sans-serif' stroke="#000" stroke-width="0.08">GeV</text>
<text transform="translate(331.20 72.10) scale(1 1.04)" font-size="14.7" font-family='"Liberation Sans", sans-serif' stroke="#000" stroke-width="0.08">/</text>
<text transform="translate(340.60 72.10) scale(1 1.04)" font-size="14.7" font-family='"Liberation Sans", sans-serif' stroke="#000" stroke-width="0.08">fm</text>
<text transform="translate(356.60 66.10) scale(1 1.04)" font-size="10.4" font-family='"Liberation Sans", sans-serif' stroke="#000" stroke-width="0.08">3</text>
<text transform="translate(226.80 86.10) scale(1.37 1)" font-size="14.0" font-family='"Liberation Serif", serif' font-style="italic" stroke="#000" stroke-width="0.1">τ</text>
<text transform="translate(233.90 89.50) scale(1 1.04)" font-size="10.4" font-family='"Liberation Sans", sans-serif' stroke="#000" stroke-width="0.08">0</text>
<text transform="translate(245.25 86.50) scale(1 1)" font-size="13.5" font-family='"Liberation Sans", sans-serif' stroke="#000" stroke-width="0.15">=</text>
<text transform="translate(257.90 85.70) scale(1 1.04)" font-size="14.7" font-family='"Liberation Sans", sans-serif' stroke="#000" stroke-width="0.08">0.25</text>
<text transform="translate(291.90 85.70) scale(1 1.04)" font-size="14.7" font-family='"Liberation Sans", sans-serif' stroke="#000" stroke-width="0.08">fm</text>
<text transform="translate(226.80 100.00) scale(1.37 1)" font-size="14.0" font-family='"Liberation Serif", serif' font-style="italic" stroke="#000" stroke-width="0.1">τ</text>
<text transform="translate(233.90 103.40) scale(1 1.04)" font-size="10.4" font-family='"Liberation Sans", sans-serif' stroke="#000" stroke-width="0.08">eq</text>
<text transform="translate(251.75 100.40) scale(1 1)" font-size="13.5" font-family='"Liberation Sans", sans-serif' stroke="#000" stroke-width="0.15">=</text>
<text transform="translate(264.40 99.60) scale(1 1.04)" font-size="14.7" font-family='"Liberation Sans", sans-serif' stroke="#000" stroke-width="0.08">0.25</text>
<text transform="translate(296.90 99.60) scale(1 1.04)" font-size="14.7" font-family='"Liberation Sans", sans-serif' stroke="#000" stroke-width="0.08">fm</text>
</g>
<g fill="#000">
<text transform="translate(189.90 247.30) scale(1.37 1)" font-size="14.0" font-family='"Liberation Serif", serif' font-style="italic" stroke="#000" stroke-width="0.1">τ</text>
<text transform="translate(202.30 247.30) scale(1 1.04)" font-size="14.7" font-family='"Liberation Sans", sans-serif' stroke="#000" stroke-width="0.08">[fm]</text>
</g>
<g transform="translate(15.7,165.4) rotate(-90)" fill="#000">
<text transform="translate(-0.60 0.00) scale(1.45 1)" font-size="14.6" font-family='"Liberation Serif", serif' font-style="italic">σ</text>
<text transform="translate(11.00 -0.30) scale(1 1)" font-size="14.7" font-family='"Liberation Sans", sans-serif' stroke="#000" stroke-width="0.08">(</text>
<text transform="translate(15.30 0.00) scale(1.37 1)" font-size="14.0" font-family='"Liberation Serif", serif' font-style="italic">τ</text>
<text transform="translate(22.90 -0.50) scale(1 1.04)" font-size="14.7" font-family='"Liberation Sans", sans-serif' stroke="#000" stroke-width="0.08">,</text>
<text transform="translate(26.60 0.00) scale(1 1)" font-size="14.7" font-family='"Liberation Sans", sans-serif' font-style="italic" stroke="#000" stroke-width="0.08">x</text>
<path d="M27.4,-10.1 H35.3 L33.2,-12.0" fill="none" stroke="#000" stroke-width="0.85" stroke-linejoin="round"/>
<text transform="translate(37.15 -0.20) scale(1 1)" font-size="13.5" font-family='"Liberation Sans", sans-serif' stroke="#000" stroke-width="0.15">=</text>
<text transform="translate(46.00 0.00) scale(1 1.04)" font-size="14.7" font-family='"Liberation Sans", sans-serif' stroke="#000" stroke-width="0.08">0</text>
<text transform="translate(54.20 -0.30) scale(1 1)" font-size="14.7" font-family='"Liberation Sans", sans-serif' stroke="#000" stroke-width="0.08">)</text>
<text transform="translate(63.60 -0.40) scale(1 1)" font-size="14.7" font-family='"Liberation Sans", sans-serif' stroke="#000" stroke-width="0.08">[</text>
<text transform="translate(67.70 0.00) scale(1 1.04)" font-size="14.7" font-family='"Liberation Sans", sans-serif' stroke="#000" stroke-width="0.08">fm</text>
<text transform="translate(84.30 -7.00) scale(1 1.04)" font-size="10.4" font-family='"Liberation Sans", sans-serif' stroke="#000" stroke-width="0.08">−3</text>
<text transform="translate(98.20 -0.40) scale(1 1)" font-size="14.7" font-family='"Liberation Sans", sans-serif' stroke="#000" stroke-width="0.08">]</text>
</g>
</svg>
</body></html>
